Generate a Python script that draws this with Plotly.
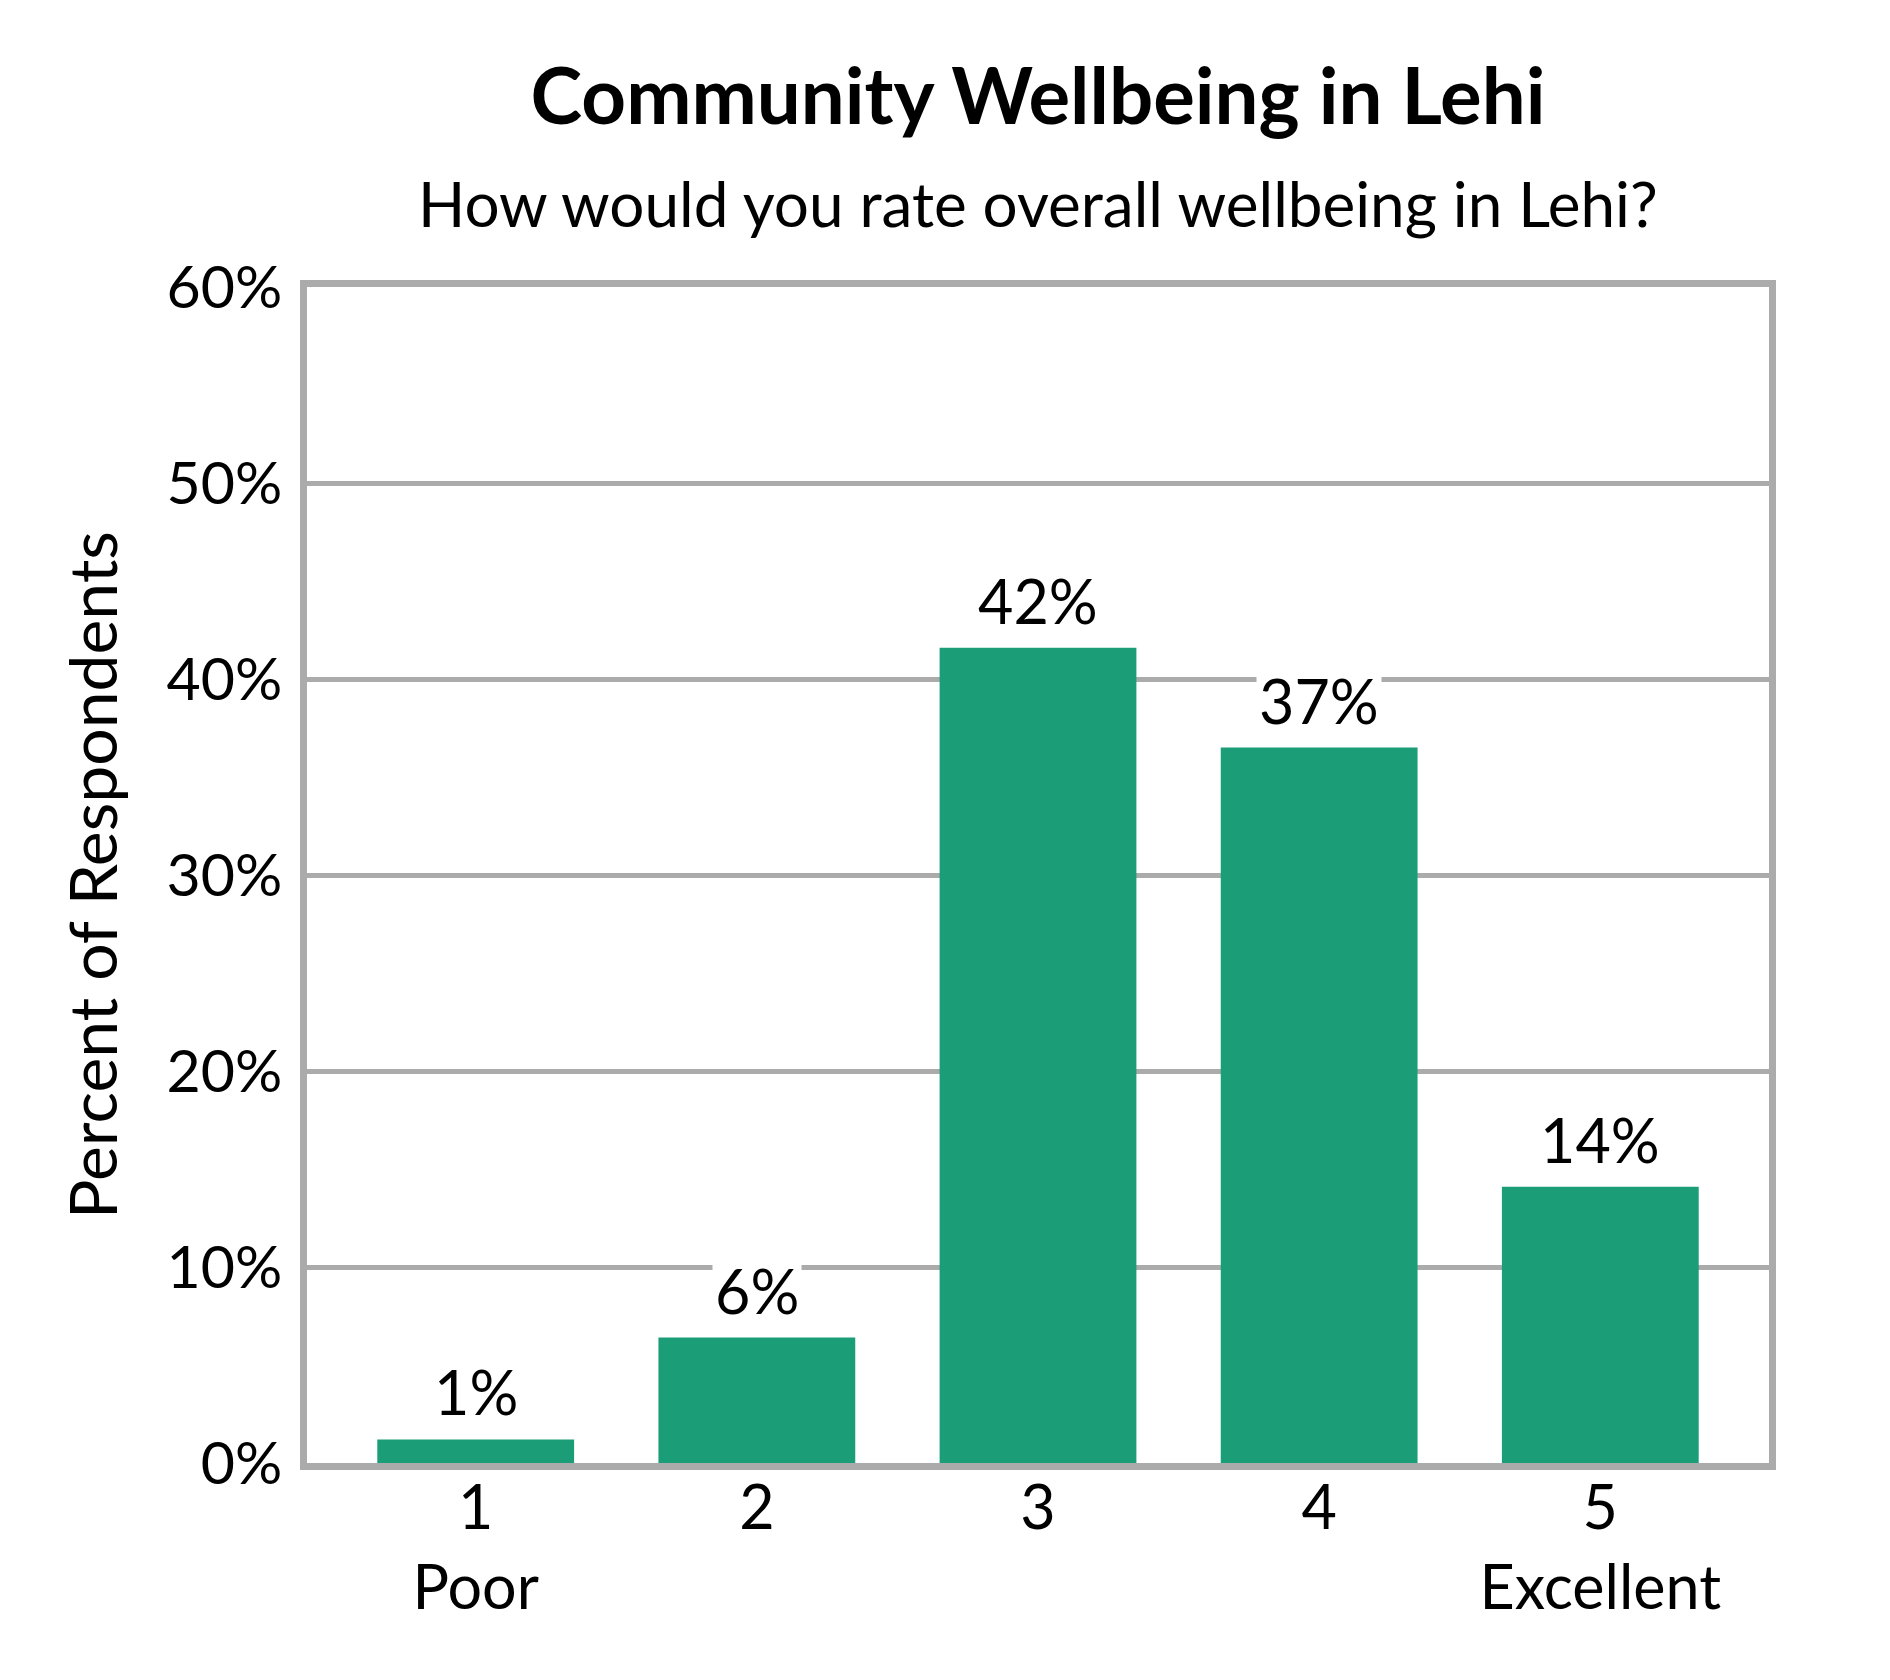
import plotly.graph_objects as go

# survey data
categories = ["1", "2", "3", "4", "5"]
category_ticks = ["1<br>Poor", "2", "3", "4", "5<br>Excellent"]
percent = [1.2, 6.4, 41.6, 36.5, 14.1]
bar_labels = ["1%", "6%", "42%", "37%", "14%"]
y_ticks = [0, 10, 20, 30, 40, 50, 60]

title_text = "Community Wellbeing in Lehi"
subtitle_text = "How would you rate overall wellbeing in Lehi?"
y_title = "Percent of Respondents"

font_family = "Lato, 'Open Sans', sans-serif"
bar_color = "#1b9e77"
frame_color = "#ababab"

fig = go.Figure()

fig.add_trace(
    go.Bar(
        x=categories,
        y=percent,
        width=0.7,
        marker={"color": bar_color, "line": {"width": 0}},
        hoverinfo="skip",
    )
)

# value labels with white box so gridlines break behind them
for i, (val, label) in enumerate(zip(percent, bar_labels)):
    fig.add_annotation(
        x=i,
        y=val,
        text=label,
        showarrow=False,
        yanchor="bottom",
        yshift=8,
        bgcolor="white",
        borderpad=2,
        font={"family": font_family, "size": 61, "color": "black"},
    )

fig.add_annotation(
    x=0.5,
    y=1.0714,
    xref="paper",
    yref="paper",
    text=subtitle_text,
    showarrow=False,
    yanchor="middle",
    font={"family": font_family, "size": 62, "color": "black"},
)

fig.update_layout(
    width=1890,
    height=1680,
    margin={"l": 299, "r": 129, "t": 279, "b": 225},
    paper_bgcolor="white",
    plot_bgcolor="white",
    showlegend=False,
    title={
        "text": f"<b>{title_text}</b>",
        "x": 0.5,
        "xref": "paper",
        "xanchor": "center",
        "y": 1 - 89 / 1680,
        "yref": "container",
        "yanchor": "middle",
        "font": {"family": font_family, "size": 78, "color": "black"},
    },
    font={"family": font_family, "size": 60, "color": "black"},
)

fig.update_xaxes(
    type="category",
    tickmode="array",
    tickvals=categories,
    ticktext=category_ticks,
    range=[-0.6, 4.6],
    showgrid=False,
    showline=True,
    linecolor=frame_color,
    linewidth=7,
    mirror=True,
    ticks="",
    ticklabelstandoff=-14,
    tickfont={"family": font_family, "size": 61, "color": "black"},
    layer="below traces",
)

fig.update_yaxes(
    range=[0, 60],
    tickmode="array",
    tickvals=y_ticks,
    ticktext=[f"{t}%" for t in y_ticks],
    showgrid=True,
    gridcolor=frame_color,
    gridwidth=5,
    zeroline=False,
    showline=True,
    linecolor=frame_color,
    linewidth=7,
    mirror=True,
    ticks="",
    ticklabelstandoff=6,
    tickfont={"family": font_family, "size": 59, "color": "black"},
    title={
        "text": y_title,
        "standoff": 30,
        "font": {"family": font_family, "size": 66, "color": "black"},
    },
    layer="below traces",
)

fig.write_html("out.html")
